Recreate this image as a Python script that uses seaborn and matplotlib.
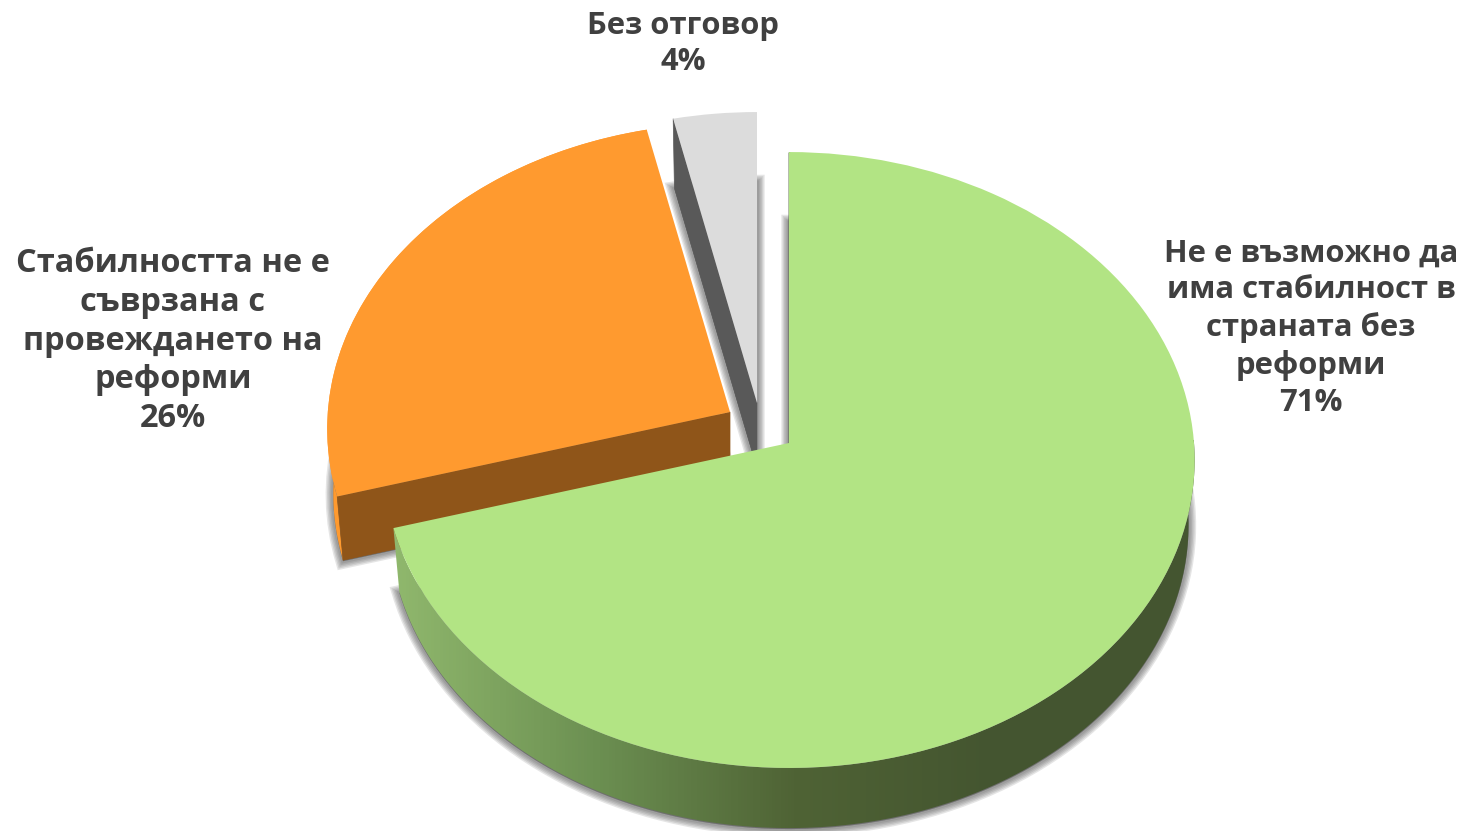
import numpy as np
import matplotlib
matplotlib.use("Agg")
import matplotlib.pyplot as plt
import seaborn as sns
from matplotlib.colors import LinearSegmentedColormap
from matplotlib.path import Path
from matplotlib.patches import PathPatch
from matplotlib.transforms import Transform

labels = [
    "Не е възможно да\nима стабилност в\nстраната без\nреформи\n71%",
    "Стабилността не е\nсъврзана с\nпровеждането на\nреформи\n26%",
    "Без отговор\n4%",
]
shares = [70.6, 25.9, 3.5]
top_colors = ["#b2e484", "#ff9a2f", "#dcdcdc"]
face_colors = ["#445530", "#8f5519", "#595959"]

sns.set_theme(style="white")
plt.rcParams["font.family"] = ["Open Sans", "DejaVu Sans"]

W, H = 1468, 831
fig = plt.figure(figsize=(W / 100, H / 100), dpi=100)
ax = fig.add_axes([0, 0, 1, 1])


# unit pie -> screen pixels, with a bit of perspective so the apex sits above the ellipse centre
class Tilt(Transform):
    input_dims = 2
    output_dims = 2

    def __init__(self, x0, y0, scale=1.0, k=0.0552):
        super().__init__()
        self.x0, self.y0, self.scale, self.k = x0, y0, scale, k

    def transform_non_affine(self, values):
        values = np.asarray(values, dtype=float)
        w = 1 + self.k * values[:, 1]
        x = self.x0 + 405 * self.scale * values[:, 0] / w
        y = self.y0 - 307 * self.scale * values[:, 1] / w
        return np.column_stack([x, y])


def lower(tilt):
    return Tilt(tilt.x0, tilt.y0 + 65, scale=tilt.scale * 0.985)


def draw_slice(i, tilt, color, zorder, **props):
    wedges, _ = ax.pie(shares, startangle=90, counterclock=False, colors=top_colors,
                       wedgeprops={"zorder": zorder, "linewidth": 0})
    for j, w in enumerate(wedges):
        if j != i:
            w.remove()
    wedge = wedges[i]
    wedge.set_facecolor(color)
    wedge.set_edgecolor("none")
    wedge.set(**props)
    wedge.set_transform(tilt + ax.transData)
    return wedge


def slice_angles(i):
    ends = np.cumsum([0] + shares) / sum(shares) * 360
    return np.radians(90 - ends[i]), np.radians(90 - ends[i + 1])


def side_band(i, tilt):
    a, b = slice_angles(i)
    t = np.linspace(a, b, 300)
    unit = np.column_stack([np.cos(t), np.sin(t)])
    up = tilt.transform_non_affine(unit)
    down = lower(tilt).transform_non_affine(unit)
    return Path(np.vstack([up, down[::-1], up[:1]]), closed=True)


def cut_face(tilt, angle):
    unit = np.array([[0.0, 0.0], [np.cos(angle), np.sin(angle)]])
    up = tilt.transform_non_affine(unit)
    down = lower(tilt).transform_non_affine(unit)
    return Path(np.vstack([up, down[::-1], up[:1]]), closed=True)


tilts = [Tilt(789, 443), Tilt(730, 412, scale=0.993), Tilt(757, 403)]

# ---- soft shadows under the extruded slices
for i, tilt in enumerate(tilts):
    shadow = Tilt(tilt.x0, tilt.y0 + 66, scale=tilt.scale * 0.985)
    for lw in [11, 9, 7, 5, 3]:
        draw_slice(i, shadow, "#4a4a4a", 1, alpha=0.14, edgecolor="#4a4a4a", linewidth=lw)

# ---- gray slice
g_a, g_b = slice_angles(2)
ax.add_patch(PathPatch(cut_face(tilts[2], g_a), fc=face_colors[2], ec=face_colors[2], lw=0.5, zorder=3))
draw_slice(2, tilts[2], top_colors[2], 4)

# ---- orange slice
ax.add_patch(PathPatch(side_band(1, tilts[1]), fc=top_colors[1], ec="none", zorder=5))
o_a, o_b = slice_angles(1)
ax.add_patch(PathPatch(cut_face(tilts[1], o_a), fc=face_colors[1], ec=face_colors[1], lw=0.5, zorder=6))
draw_slice(1, tilts[1], top_colors[1], 7)

# ---- green slice, side gets a horizontal gradient
side_cmap = LinearSegmentedColormap.from_list(
    "side", ["#90b86d", "#6c9052", "#4f6335", face_colors[0], face_colors[0]])
gradient = np.linspace(0, 1, 256).reshape(1, -1)
img = ax.imshow(gradient, cmap=side_cmap, extent=(393, 1195, 831, 440), aspect="auto", zorder=8)
img.set_clip_path(PathPatch(side_band(0, tilts[0]), transform=ax.transData))
ax.add_patch(PathPatch(cut_face(tilts[0], np.pi / 2), fc="none", ec=face_colors[0], lw=1, zorder=8))
draw_slice(0, tilts[0], top_colors[0], 9)

# ---- labels
text_pos = [(1311, 328), (173, 341), (683, 44)]
text_sizes = [22.3, 23.4, 22.3]
text_spacing = [1.29, 1.232, 1.29]
for label, (x, y), size, spacing in zip(labels, text_pos, text_sizes, text_spacing):
    ax.text(x, y, label, ha="center", va="center", fontsize=size, fontweight="bold",
            color="#404040", linespacing=spacing, zorder=10)

ax.set_xlim(0, W)
ax.set_ylim(H, 0)
ax.set_aspect("auto")
ax.axis("off")
fig.savefig("out.png", dpi=100, facecolor="white")
